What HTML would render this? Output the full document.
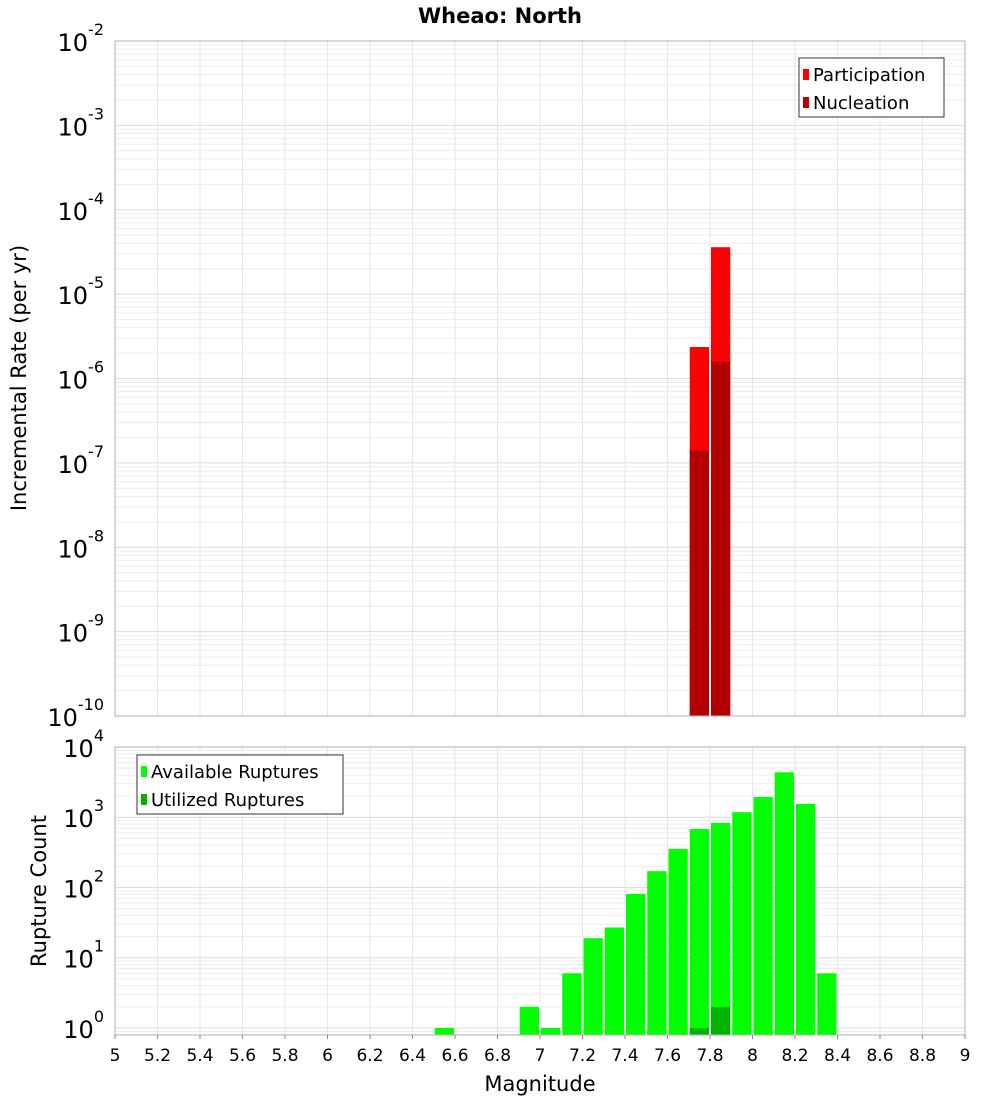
<!DOCTYPE html>
<html><head><meta charset="utf-8"><style>
body{margin:0;background:#fff;font-family:"DejaVu Sans","Liberation Sans",sans-serif;}
</style></head><body>
<svg id="c" width="1000" height="1100" xmlns="http://www.w3.org/2000/svg" font-family="DejaVu Sans, Liberation Sans, sans-serif"></svg>
<script>
const magCenters=[7.75,7.85];
const participation=[2.36e-6,3.6e-5];
const nucleation=[1.4e-7,1.6e-6];
const countMags=[6.55,6.95,7.05,7.15,7.25,7.35,7.45,7.55,7.65,7.75,7.85,7.95,8.05,8.15,8.25,8.35];
const available=[1,2,1,6,19,27,81,171,354,680,830,1180,1940,4370,1550,6];
const utilMags=[7.75,7.85];
const utilized=[1,2];
const xTicks=[5,5.2,5.4,5.6,5.8,6,6.2,6.4,6.6,6.8,7,7.2,7.4,7.6,7.8,8,8.2,8.4,8.6,8.8,9];
const topExp=[-10,-9,-8,-7,-6,-5,-4,-3,-2];
const botExp=[0,1,2,3,4];

const svg=document.getElementById('c');const NS='http://www.w3.org/2000/svg';
function mk(t,a,p,name){const e=document.createElementNS(NS,t);for(const k in a)e.setAttribute(k,a[k]);


(p||svg).appendChild(e);return e;}
const X0=115,X1=965;
const xs=v=>X0+(v-5)/4*(X1-X0);
const T0=41,T1=716;const ty=v=>T1-(Math.log10(v)+10)/8*(T1-T0);
const B0=747,B1=1035,Bmin=-0.1,Bmax=4;const by=v=>B1-(Math.log10(v)-Bmin)/(Bmax-Bmin)*(B1-B0);
const bw=(X1-X0)/40;

function grid(y0,y1,lo,hi,yf,name){
 const g=mk('g',{},svg,name);
 for(let d=Math.floor(lo);d<hi;d++)for(let m=1;m<10;m++){const v=Math.pow(10,d)*m;const y=yf(v);if(y<y0||y>y1)continue;
  mk('line',{x1:X0,x2:X1,y1:y,y2:y,stroke:m==1?'#dcdcdc':'#ececec','stroke-width':1},g,'h-grid-line');}
 xTicks.forEach(t=>mk('line',{x1:xs(t),x2:xs(t),y1:y0,y2:y1,stroke:'#e6e6e6'},g,'v-grid-line'));
}
grid(T0,T1,-10,-2,ty,'top-grid');grid(B0,B1,-1,4,by,'bottom-grid');

magCenters.forEach((m,i)=>{
 mk('rect',{x:xs(m)-bw/2+1,y:ty(participation[i]),width:bw-2,height:T1-ty(participation[i]),fill:'#ff0000'},svg,'participation-bar');
 mk('rect',{x:xs(m)-bw/2+1,y:ty(nucleation[i]),width:bw-2,height:T1-ty(nucleation[i]),fill:'#b30000'},svg,'nucleation-bar');
});
countMags.forEach((m,i)=>mk('rect',{x:xs(m)-bw/2+1,y:by(available[i]),width:bw-2,height:B1-by(available[i]),fill:'#00ff00'},svg,'available-bar'));
utilMags.forEach((m,i)=>mk('rect',{x:xs(m)-bw/2+1,y:by(utilized[i]),width:bw-2,height:B1-by(utilized[i]),fill:'#00b300'},svg,'utilized-bar'));

mk('rect',{x:X0,y:T0,width:X1-X0,height:T1-T0,fill:'none',stroke:'#b0b0b0'},svg,'top-plot-frame');
mk('rect',{x:X0,y:B0,width:X1-X0,height:B1-B0,fill:'none',stroke:'#b0b0b0'},svg,'bottom-plot-frame');

function txt(s,a,name){const e=mk('text',a,svg,name);e.textContent=s;return e;}
function pow(ex,y,name){const e=mk('text',{x:104,y:y+10,'text-anchor':'end','font-size':24,fill:'#000'},svg,name);
 const t1=document.createElementNS(NS,'tspan');t1.textContent='10';e.appendChild(t1);
 const t2=document.createElementNS(NS,'tspan');t2.setAttribute('dy','-16');t2.setAttribute('font-size','16');t2.textContent=ex;e.appendChild(t2);}
topExp.forEach(e=>pow(String(e),ty(Math.pow(10,e)),'top-y-tick-label'));
botExp.forEach(e=>pow(String(e),by(Math.pow(10,e)),'bottom-y-tick-label'));
xTicks.forEach(t=>{mk('line',{x1:xs(t),x2:xs(t),y1:B1,y2:B1+4,stroke:'#888'},svg,'x-tick');
 txt(String(Math.round(t*10)/10),{x:xs(t),y:1061,'text-anchor':'middle','font-size':17},'x-tick-label');});

txt('Wheao: North',{x:500,y:23,'text-anchor':'middle','font-size':21,'font-weight':'bold'},'chart-title');
txt('Magnitude',{x:540,y:1091,'text-anchor':'middle','font-size':21},'x-axis-title');
txt('Incremental Rate (per yr)',{x:26,y:378,'text-anchor':'middle','font-size':21,transform:'rotate(-90 26 378)'},'top-y-axis-title');
txt('Rupture Count',{x:46,y:891,'text-anchor':'middle','font-size':21,transform:'rotate(-90 46 891)'},'bottom-y-axis-title');

function legend(x,y,w,items,name){const g=mk('g',{},svg,name);
 mk('rect',{x:x,y:y,width:w,height:59,fill:'#fff',stroke:'#333'},g,'legend-box');
 items.forEach((it,i)=>{mk('rect',{x:x+4,y:y+11+i*28,width:6,height:11,fill:it[1]},g,'legend-swatch');
  const t=mk('text',{x:x+14,y:y+23+i*28,'font-size':18},g,'legend-label');t.textContent=it[0];});}
legend(799,58,145,[['Participation','#ff0000'],['Nucleation','#b30000']],'top-legend');
legend(137,755,206,[['Available Ruptures','#00ff00'],['Utilized Ruptures','#00b300']],'bottom-legend');
</script>
</body></html>
